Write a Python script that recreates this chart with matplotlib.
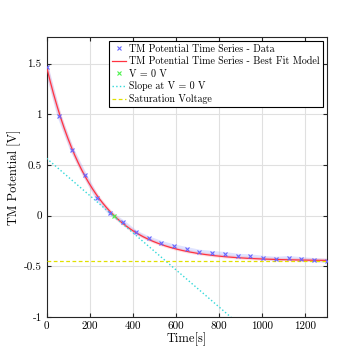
import numpy as np
import matplotlib
matplotlib.use("Agg")
import matplotlib.pyplot as plt

plt.rcParams['font.family'] = 'serif'
plt.rcParams['font.serif'] = ['cmr10', 'DejaVu Serif']
plt.rcParams['mathtext.fontset'] = 'cm'
plt.rcParams['axes.unicode_minus'] = False

# data
time_s = [0, 59, 118, 177, 236, 295, 355, 414, 473, 532, 591, 650,
          709, 768, 827, 886, 945, 1005, 1064, 1123, 1182, 1241, 1300]
volt = [1.467, 0.983, 0.652, 0.404, 0.172, 0.023, -0.066, -0.166, -0.225,
        -0.270, -0.305, -0.331, -0.357, -0.370, -0.380, -0.397, -0.404,
        -0.417, -0.427, -0.420, -0.430, -0.440, -0.447]

# best fit model V = Vs + (V0 - Vs) * exp(-t / tau)
fit_vs = -0.447
fit_v0 = 1.467
fit_tau = 215.0

zero_t = 311.0          # point where V = 0
slope_intercept = 0.565  # slope line value at t = 0
slope_zero_t = 308.0     # slope line crossing of V = 0
sat_v = -0.447

fig, ax = plt.subplots(figsize=(3.56, 3.56), dpi=100)
fig.subplots_adjust(left=0.131, right=0.918, top=0.895, bottom=0.110)

t_fit = np.linspace(0, 1300, 400)
v_fit = fit_vs + (fit_v0 - fit_vs) * np.exp(-t_fit / fit_tau)

# faint bands
ax.plot(time_s, volt, color=(0.6, 0.65, 1.0), lw=3.0, alpha=0.3, zorder=2)
ax.plot(t_fit, v_fit, color=(1.0, 0.5, 0.55), lw=2.5, alpha=0.25, zorder=2)

ax.plot(time_s, volt, 'x', color=(0.4, 0.4, 1.0), ms=3.5, mew=0.8,
        label='TM Potential Time Series - Data', zorder=4)
ax.plot(t_fit, v_fit, '-', color=(1.0, 0.2, 0.25), lw=0.9,
        label='TM Potential Time Series - Best Fit Model', zorder=3)
ax.plot([zero_t], [0], 'x', color=(0.3, 0.95, 0.3), ms=3.5, mew=0.8,
        label='V = 0 V', zorder=5)

t_line = np.array([0, 1300])
slope = -slope_intercept / slope_zero_t
ax.plot(t_line, slope_intercept + slope * t_line, ':', color=(0.2, 0.85, 0.85),
        lw=1.0, label='Slope at V = 0 V', zorder=3)
ax.plot(t_line, [sat_v, sat_v], '--', color=(0.88, 0.88, 0.0), lw=0.9,
        dashes=(3, 2), label='Saturation Voltage', zorder=3)

ax.set_xlim(0, 1300)
ax.set_ylim(-1, 1.76)
ax.set_xticks([0, 200, 400, 600, 800, 1000, 1200])
ax.set_yticks([-1, -0.5, 0, 0.5, 1, 1.5])
ax.set_yticklabels(['-1', '-0.5', '0', '0.5', '1', '1.5'])
ax.grid(True, color=(0.88, 0.88, 0.88), lw=0.8)
ax.set_axisbelow(True)
ax.tick_params(direction='in', top=True, right=True, labelsize=8,
               length=3, color=(0.15, 0.15, 0.15))
for s in ax.spines.values():
    s.set_color((0.15, 0.15, 0.15))
    s.set_linewidth(0.8)

ax.set_xlabel('Time[s]', fontsize=9, labelpad=1)
ax.set_ylabel('TM Potential [V]', fontsize=9, labelpad=2)

leg = ax.legend(loc='upper right', fontsize=7.2, frameon=True, fancybox=False,
                edgecolor='black', framealpha=1, handlelength=1.4,
                borderpad=0.3, labelspacing=0.28, handletextpad=0.3,
                borderaxespad=0.4)
leg.get_frame().set_linewidth(0.8)

fig.savefig('out.png', dpi=100)
